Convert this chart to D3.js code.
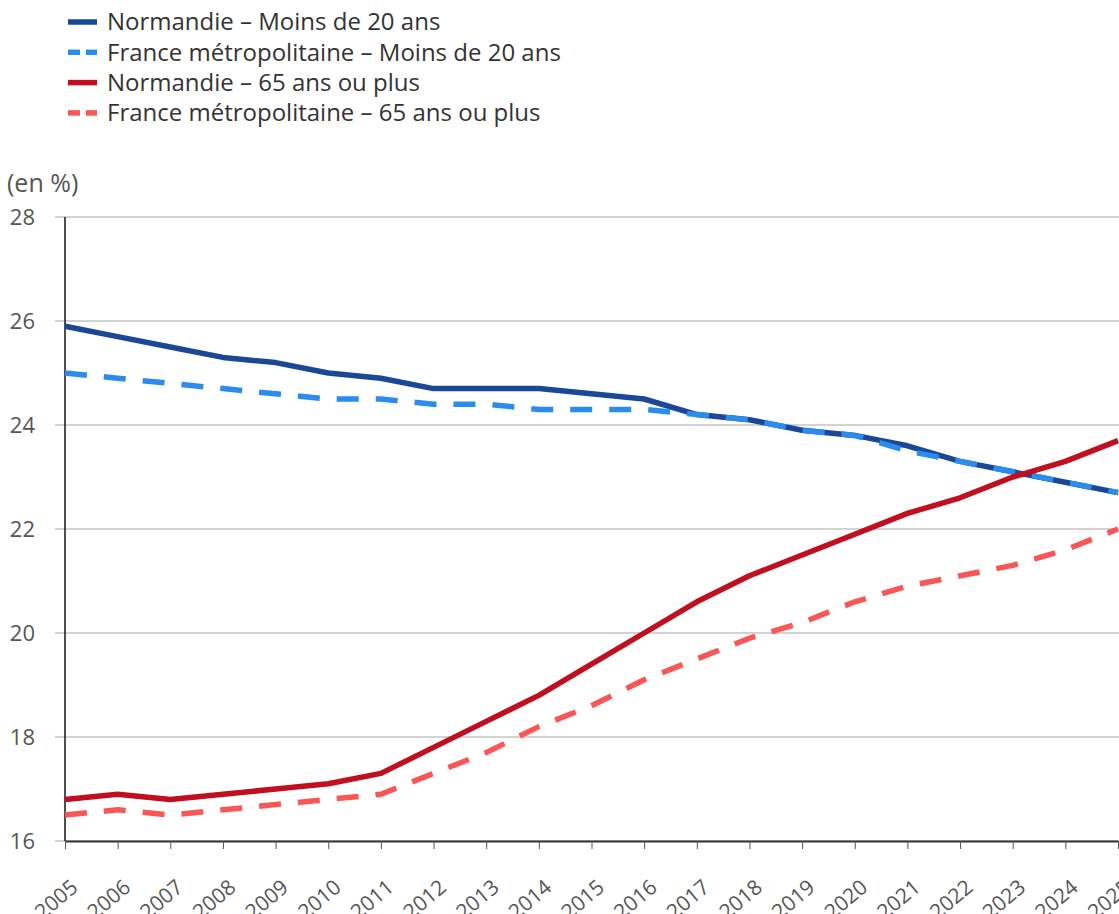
<!DOCTYPE html>
<html lang="fr">
<head>
<meta charset="utf-8">
<script src="https://cdn.jsdelivr.net/npm/d3@7"></script>
<style>
  html, body { margin: 0; padding: 0; background: #fff; }
  svg { display: block; font-family: "Open Sans", "Noto Sans", sans-serif; }
</style>
</head>
<body>
<svg id="chart" width="1119" height="914"></svg>
<script>
// Part des moins de 20 ans et des 65 ans ou plus dans la population (en %)
const years = [2005, 2006, 2007, 2008, 2009, 2010, 2011, 2012, 2013, 2014, 2015,
               2016, 2017, 2018, 2019, 2020, 2021, 2022, 2023, 2024, 2025];

const normandieMoins20 = [25.9, 25.7, 25.5, 25.3, 25.2, 25.0, 24.9, 24.7, 24.7, 24.7, 24.6,
                          24.5, 24.2, 24.1, 23.9, 23.8, 23.6, 23.3, 23.1, 22.9, 22.7];
const franceMoins20    = [25.0, 24.9, 24.8, 24.7, 24.6, 24.5, 24.5, 24.4, 24.4, 24.3, 24.3,
                          24.3, 24.2, 24.1, 23.9, 23.8, 23.5, 23.3, 23.1, 22.9, 22.7];
const normandie65      = [16.8, 16.9, 16.8, 16.9, 17.0, 17.1, 17.3, 17.8, 18.3, 18.8, 19.4,
                          20.0, 20.6, 21.1, 21.5, 21.9, 22.3, 22.6, 23.0, 23.3, 23.7];
const france65         = [16.5, 16.6, 16.5, 16.6, 16.7, 16.8, 16.9, 17.3, 17.7, 18.2, 18.6,
                          19.1, 19.5, 19.9, 20.2, 20.6, 20.9, 21.1, 21.3, 21.6, 22.0];

const yTicks = [16, 18, 20, 22, 24, 26, 28];

const seriesNames = [
  "Normandie – Moins de 20 ans",
  "France métropolitaine – Moins de 20 ans",
  "Normandie – 65 ans ou plus",
  "France métropolitaine – 65 ans ou plus"
];

const series = [
  { name: seriesNames[0], values: normandieMoins20, color: "#1b4797", dashed: false },
  { name: seriesNames[1], values: franceMoins20,    color: "#2b8cf0", dashed: true  },
  { name: seriesNames[2], values: normandie65,      color: "#c10f1f", dashed: false },
  { name: seriesNames[3], values: france65,         color: "#fb5656", dashed: true  }
];

const svg = d3.select("#chart");
const plot = { left: 65, right: 1118, top: 217, bottom: 841 };

const x = d3.scaleLinear().domain([2005, 2025]).range([plot.left, plot.right]);
const y = d3.scaleLinear().domain([16, 28]).range([plot.bottom, plot.top]);

// Legend
const legend = svg.append("g");
series.forEach((s, i) => {
  const ly = 22 + i * 30.3;
  const row = legend.append("g").attr("transform", `translate(0,${ly})`);
  if (s.dashed) {
    row.append("line").attr("x1", 68).attr("x2", 80).attr("y1", 0).attr("y2", 0)
      .attr("stroke", s.color).attr("stroke-width", 5.5);
    row.append("line").attr("x1", 86).attr("x2", 97).attr("y1", 0).attr("y2", 0)
      .attr("stroke", s.color).attr("stroke-width", 5.5);
  } else {
    row.append("line").attr("x1", 68).attr("x2", 97).attr("y1", 0).attr("y2", 0)
      .attr("stroke", s.color).attr("stroke-width", 5.5);
  }
  row.append("text").attr("x", 107).attr("y", 0).attr("dy", "0.35em")
    .attr("font-size", 24).attr("fill", "#333").text(s.name);
});

// Unit label
svg.append("text").attr("x", 7).attr("y", 192)
  .attr("font-size", 25).attr("fill", "#555").text("(en %)");

// Horizontal grid
svg.append("g").selectAll("line").data(yTicks).join("line")
  .attr("x1", 55).attr("x2", 1119)
  .attr("y1", d => y(d)).attr("y2", d => y(d))
  .attr("stroke", "#a6a6a6").attr("stroke-width", 1.2);

// Y axis
const yAxis = d3.axisLeft(y).tickValues(yTicks).tickSize(0).tickPadding(0);
const gy = svg.append("g").attr("transform", `translate(${plot.left},0)`).call(yAxis);
gy.select(".domain").remove();
gy.selectAll("text").attr("x", -30).attr("text-anchor", "end")
  .attr("font-family", "'Open Sans', sans-serif")
  .attr("font-size", 22).attr("fill", "#555");

svg.append("line").attr("x1", plot.left).attr("x2", plot.left)
  .attr("y1", plot.top).attr("y2", plot.bottom)
  .attr("stroke", "#222").attr("stroke-width", 1.6);

// X axis
const xAxis = d3.axisBottom(x).tickValues(years).tickFormat(d3.format("d"))
  .tickSize(8).tickSizeOuter(0);
const gx = svg.append("g").attr("transform", `translate(0,${plot.bottom})`).call(xAxis);
gx.select(".domain").attr("stroke", "#333").attr("stroke-width", 2.2);
gx.selectAll(".tick line").attr("stroke", "#555").attr("stroke-width", 1);
gx.selectAll("text")
  .attr("font-family", "'Open Sans', sans-serif")
  .attr("font-size", 21).attr("fill", "#555")
  .attr("text-anchor", "end")
  .attr("transform", "translate(4,37) rotate(-40)")
  .attr("x", 0).attr("y", 0).attr("dy", "0.72em");

// Lines, drawn in legend order
const line = d3.line().x((d, i) => x(years[i])).y(d => y(d));
svg.append("g").selectAll("path").data(series).join("path")
  .attr("d", s => line(s.values))
  .attr("fill", "none")
  .attr("stroke", s => s.color)
  .attr("stroke-width", 5.5)
  .attr("stroke-linejoin", "round")
  .attr("stroke-dasharray", s => s.dashed ? "22 17" : null);
</script>
</body>
</html>
